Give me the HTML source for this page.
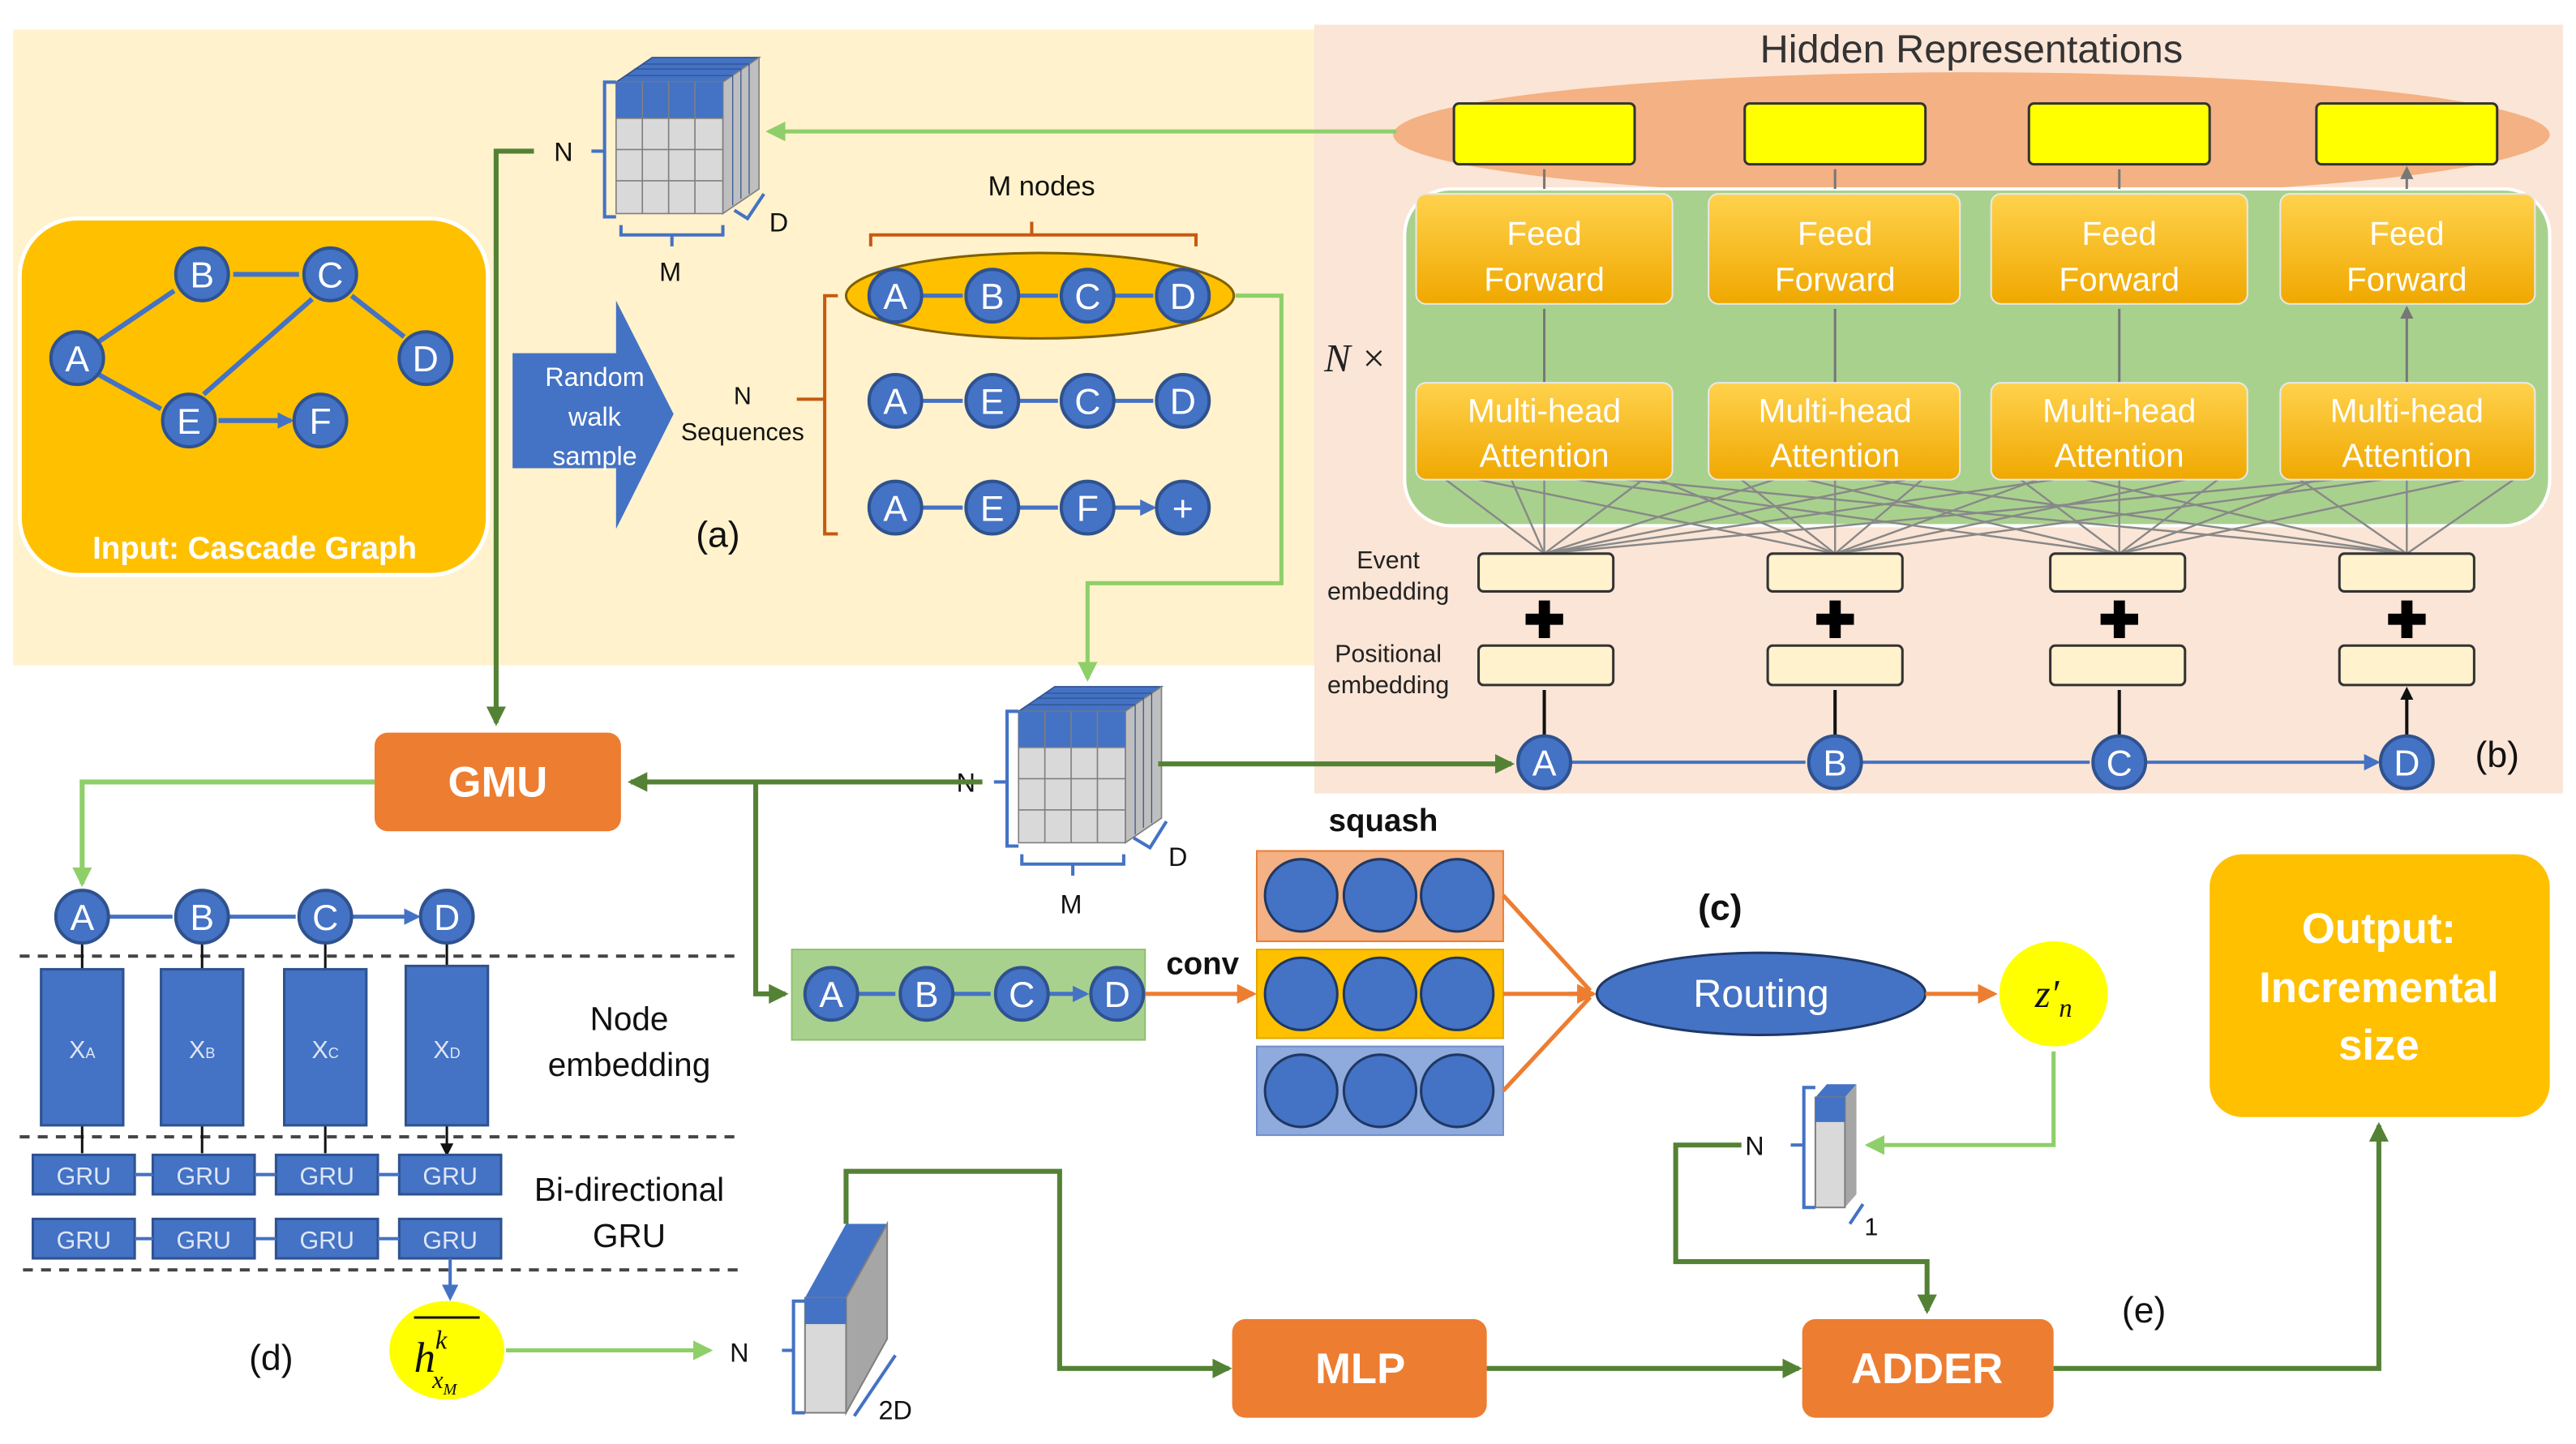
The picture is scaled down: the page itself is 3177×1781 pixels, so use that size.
<!DOCTYPE html>
<html><head><meta charset="utf-8"><style>html,body{margin:0;padding:0;background:#fff}svg{display:block}</style></head>
<body>
<svg width="3177" height="1781" viewBox="0 0 1568 879" xmlns="http://www.w3.org/2000/svg" font-family="Liberation Sans, sans-serif">
<defs>
<marker id="dg" markerWidth="8" markerHeight="8" refX="6" refY="4" orient="auto" markerUnits="userSpaceOnUse"><path d="M0,0 L8,4 L0,8z" fill="#548235"/></marker>
<marker id="lg" markerWidth="12" markerHeight="12" refX="10" refY="6" orient="auto" markerUnits="userSpaceOnUse"><path d="M0,0 L12,6 L0,12z" fill="#8fcf6a"/></marker>
<marker id="dgb" markerWidth="12" markerHeight="12" refX="10" refY="6" orient="auto" markerUnits="userSpaceOnUse"><path d="M0,0 L12,6 L0,12z" fill="#548235"/></marker>
<marker id="or" markerWidth="12" markerHeight="12" refX="10" refY="6" orient="auto" markerUnits="userSpaceOnUse"><path d="M0,0 L12,6 L0,12z" fill="#ed7d31"/></marker>
<marker id="bl" markerWidth="10" markerHeight="10" refX="8" refY="5" orient="auto" markerUnits="userSpaceOnUse"><path d="M0,0 L10,5 L0,10z" fill="#4472c4"/></marker>
<marker id="bk" markerWidth="8" markerHeight="8" refX="6" refY="4" orient="auto" markerUnits="userSpaceOnUse"><path d="M0,0 L8,4 L0,8z" fill="#111"/></marker>
<marker id="gy" markerWidth="8" markerHeight="8" refX="6" refY="4" orient="auto" markerUnits="userSpaceOnUse"><path d="M0,0 L8,4 L0,8z" fill="#777"/></marker>
<linearGradient id="ff" x1="0" y1="0" x2="0" y2="1"><stop offset="0" stop-color="#ffd24d"/><stop offset="1" stop-color="#f0a800"/></linearGradient>
<g id="cube">
 <path d="M0,15 L22,0 L87,0 L65,15z" fill="#4472c4" stroke="#2f528f" stroke-width="0.8"/>
 <path d="M65,15 L87,0 L87,80 L65,95z" fill="#bfbfbf" stroke="#7f7f7f" stroke-width="0.8"/>
 <rect x="0" y="15" width="65" height="80" fill="#d9d9d9" stroke="#7f7f7f" stroke-width="0.8"/>
 <rect x="0" y="15" width="65" height="22" fill="#4472c4"/>
 <path d="M16,15V95M32,15V95M48,15V95M0,37H65M0,56H65M0,75H65" stroke="#7f7f7f" stroke-width="0.8"/>
 <path d="M6,11L71,11M11,7L76,7M16,4L81,4M71,11V90M76,7V86M81,4V83" stroke="#2f528f" stroke-width="0.6" fill="none"/>
</g>
</defs>

<!-- panels -->
<rect x="8" y="18" width="792" height="387" fill="#fff2cc"/>
<rect x="800" y="15" width="760" height="468" fill="#fbe5d6"/>

<!-- right panel (b) -->
<text x="1200" y="38" font-size="24" text-anchor="middle" fill="#333">Hidden Representations</text>
<ellipse cx="1200" cy="82" rx="352" ry="38" fill="#f4b183"/>
<g fill="#ffff00" stroke="#333" stroke-width="1.5">
<rect x="885" y="63" width="110" height="37" rx="3"/><rect x="1062" y="63" width="110" height="37" rx="3"/><rect x="1235" y="63" width="110" height="37" rx="3"/><rect x="1410" y="63" width="110" height="37" rx="3"/>
</g>
<rect x="855" y="115" width="697" height="205" rx="28" fill="#a9d18e" stroke="#fff" stroke-width="2"/>
<g stroke="#777" stroke-width="1.5" marker-end="url(#gy)">
<path d="M940,115V103M1117,115V103M1290,115V103M1465,115V103"/>
<path d="M940,233V188M1117,233V188M1290,233V188M1465,233V188"/>
</g>
<g stroke="#888" stroke-width="1.2" fill="none">
<path d="M940,337L880,292M940,337L920,292M940,337L1000,292M940,337L1080,292M940,337L1160,292M940,337L1250,292M940,337L1420,292"/>
<path d="M1117,337L900,292M1117,337L1010,292M1117,337L1060,292M1117,337L1170,292M1117,337L1240,292M1117,337L1330,292M1117,337L1450,292"/>
<path d="M1290,337L960,292M1290,337L1100,292M1290,337L1230,292M1290,337L1350,292M1290,337L1410,292M1290,337L1500,292"/>
<path d="M1465,337L990,292M1465,337L1140,292M1465,337L1270,292M1465,337L1400,292M1465,337L1530,292"/>
<path d="M940,337V292M1117,337V292M1290,337V292M1465,337V292"/>
</g>
<g fill="url(#ff)" stroke="#e8e8e8" stroke-width="1">
<rect x="862" y="118" width="156" height="67" rx="6"/><rect x="1040" y="118" width="153" height="67" rx="6"/><rect x="1212" y="118" width="156" height="67" rx="6"/><rect x="1388" y="118" width="155" height="67" rx="6"/>
<rect x="862" y="233" width="156" height="59" rx="6"/><rect x="1040" y="233" width="153" height="59" rx="6"/><rect x="1212" y="233" width="156" height="59" rx="6"/><rect x="1388" y="233" width="155" height="59" rx="6"/>
</g>
<g fill="#fff" font-size="20" text-anchor="middle">
<text x="940" y="149">Feed</text><text x="940" y="177">Forward</text>
<text x="1117" y="149">Feed</text><text x="1117" y="177">Forward</text>
<text x="1290" y="149">Feed</text><text x="1290" y="177">Forward</text>
<text x="1465" y="149">Feed</text><text x="1465" y="177">Forward</text>
<text x="940" y="257">Multi-head</text><text x="940" y="284">Attention</text>
<text x="1117" y="257">Multi-head</text><text x="1117" y="284">Attention</text>
<text x="1290" y="257">Multi-head</text><text x="1290" y="284">Attention</text>
<text x="1465" y="257">Multi-head</text><text x="1465" y="284">Attention</text>
</g>
<text x="806" y="226" font-size="24" font-family="Liberation Serif, serif" font-style="italic" fill="#222">N ×</text>
<g fill="#fff2cc" stroke="#333" stroke-width="1.5">
<rect x="900" y="337" width="82" height="23" rx="3"/><rect x="1076" y="337" width="82" height="23" rx="3"/><rect x="1248" y="337" width="82" height="23" rx="3"/><rect x="1424" y="337" width="82" height="23" rx="3"/>
<rect x="900" y="393" width="82" height="24" rx="3"/><rect x="1076" y="393" width="82" height="24" rx="3"/><rect x="1248" y="393" width="82" height="24" rx="3"/><rect x="1424" y="393" width="82" height="24" rx="3"/>
</g>
<g font-size="30" font-weight="bold" text-anchor="middle" fill="#000">
<text x="940" y="388">✚</text><text x="1117" y="388">✚</text><text x="1290" y="388">✚</text><text x="1465" y="388">✚</text>
</g>
<g font-size="15" text-anchor="middle" fill="#222">
<text x="845" y="346">Event</text><text x="845" y="365">embedding</text>
<text x="845" y="403">Positional</text><text x="845" y="422">embedding</text>
</g>
<g stroke="#111" stroke-width="2" marker-end="url(#bk)">
<path d="M940,448V420M1117,448V420M1290,448V420M1465,448V420"/>
</g>
<g stroke="#4472c4" stroke-width="2" marker-end="url(#bl)">
<path d="M956,464H1099M1133,464H1272M1306,464H1447"/>
</g>
<text x="1520" y="467" font-size="22" fill="#111" text-anchor="middle">(b)</text>

<!-- input graph -->
<rect x="12" y="133" width="285" height="217" rx="35" fill="#ffc000" stroke="#fff" stroke-width="2.5"/>
<g stroke="#4472c4" stroke-width="3" marker-end="url(#bl)">
<path d="M60,208L106,177M142,167H182M214,180L246,205M60,228L98,249M124,240L190,182M133,256H177"/>
</g>
<text x="155" y="340" font-size="19" font-weight="bold" fill="#fff" text-anchor="middle">Input: Cascade Graph</text>

<!-- random walk arrow -->
<polygon points="312,215 375,215 375,183 410,252 375,322 375,285 312,285" fill="#4472c4"/>
<g fill="#fff" font-size="16" text-anchor="middle"><text x="362" y="235">Random</text><text x="362" y="259">walk</text><text x="362" y="283">sample</text></g>
<g fill="#111" font-size="15" text-anchor="middle"><text x="452" y="246">N</text><text x="452" y="268">Sequences</text></g>
<path d="M510,180H502V325H510M502,243H485" stroke="#c55a11" stroke-width="2" fill="none"/>
<path d="M530,150V143H728V150M628,143V135" stroke="#c55a11" stroke-width="2" fill="none"/>
<text x="634" y="119" font-size="17" fill="#111" text-anchor="middle">M nodes</text>
<ellipse cx="633" cy="180" rx="118" ry="26" fill="#ffc000" stroke="#806000" stroke-width="1.5"/>
<g stroke="#4472c4" stroke-width="2.5" marker-end="url(#bl)">
<path d="M561,180H586M620,180H644M678,180H702M561,244H586M620,244H644M678,244H702M561,309H586M620,309H644M678,309H702"/>
</g>
<text x="437" y="333" font-size="22" fill="#111" text-anchor="middle">(a)</text>

<!-- top cube -->
<use href="#cube" x="375" y="35"/>
<path d="M375,50H368V132H375M368,92H360" stroke="#4472c4" stroke-width="2" fill="none"/>
<path d="M378,137V143H440V137M409,143V150" stroke="#4472c4" stroke-width="2" fill="none"/>
<path d="M447,128L455,133L465,118" stroke="#4472c4" stroke-width="2" fill="none"/>
<text x="343" y="98" font-size="16" fill="#111" text-anchor="middle">N</text>
<text x="408" y="171" font-size="16" fill="#111" text-anchor="middle">M</text>
<text x="474" y="141" font-size="16" fill="#111" text-anchor="middle">D</text>

<!-- middle cube -->
<use href="#cube" x="620" y="418"/>
<path d="M620,433H613V515H620M613,476H605" stroke="#4472c4" stroke-width="2" fill="none"/>
<path d="M622,520V526H684V520M653,526V533" stroke="#4472c4" stroke-width="2" fill="none"/>
<path d="M690,510L700,516L710,500" stroke="#4472c4" stroke-width="2" fill="none"/>
<text x="588" y="482" font-size="16" fill="#111" text-anchor="middle">N</text>
<text x="652" y="556" font-size="16" fill="#111" text-anchor="middle">M</text>
<text x="717" y="527" font-size="16" fill="#111" text-anchor="middle">D</text>

<!-- green connectors -->
<path d="M850,80H468" stroke="#8fcf6a" stroke-width="2.5" fill="none" marker-end="url(#lg)"/>
<path d="M752,180H780V355H662V413" stroke="#8fcf6a" stroke-width="2.5" fill="none" marker-end="url(#lg)"/>
<path d="M325,92H302V440" stroke="#548235" stroke-width="3" fill="none" marker-end="url(#dgb)"/>
<path d="M705,465H920" stroke="#548235" stroke-width="3" fill="none" marker-end="url(#dgb)"/>
<path d="M598,476H384" stroke="#548235" stroke-width="3" fill="none" marker-end="url(#dgb)"/>
<path d="M460,476V605H478" stroke="#548235" stroke-width="3" fill="none" marker-end="url(#dgb)"/>
<path d="M228,476H50V538" stroke="#8fcf6a" stroke-width="3" fill="none" marker-end="url(#lg)"/>

<!-- GMU -->
<rect x="228" y="446" width="150" height="60" rx="8" fill="#ed7d31"/>
<text x="303" y="485" font-size="26" font-weight="bold" fill="#fff" text-anchor="middle">GMU</text>

<!-- (d) -->
<g stroke="#444" stroke-width="2" stroke-dasharray="6,5"><path d="M12,582H450M12,692H450M14,773H450"/></g>
<g stroke="#4472c4" stroke-width="2.5" marker-end="url(#bl)"><path d="M66,558H105M139,558H180M214,558H254"/></g>
<g stroke="#111" stroke-width="1.5" marker-end="url(#bk)"><path d="M50,574V590M123,574V590M198,574V590M272,574V590M50,685V702M123,685V702M198,685V702M272,685V702"/></g>
<g fill="#4472c4" stroke="#2f528f" stroke-width="1.5">
<rect x="25" y="590" width="50" height="95"/><rect x="98" y="590" width="50" height="95"/><rect x="173" y="590" width="50" height="95"/><rect x="247" y="588" width="50" height="97"/>
<rect x="20" y="703" width="62" height="24"/><rect x="93" y="703" width="62" height="24"/><rect x="168" y="703" width="62" height="24"/><rect x="243" y="703" width="62" height="24"/>
<rect x="20" y="742" width="62" height="24"/><rect x="93" y="742" width="62" height="24"/><rect x="168" y="742" width="62" height="24"/><rect x="243" y="742" width="62" height="24"/>
</g>
<g fill="#dde6f5" font-size="15" text-anchor="middle">
<text x="50" y="644">X<tspan font-size="9">A</tspan></text><text x="123" y="644">X<tspan font-size="9">B</tspan></text><text x="198" y="644">X<tspan font-size="9">C</tspan></text><text x="272" y="644">X<tspan font-size="9">D</tspan></text>
<text x="51" y="721">GRU</text><text x="124" y="721">GRU</text><text x="199" y="721">GRU</text><text x="274" y="721">GRU</text>
<text x="51" y="760">GRU</text><text x="124" y="760">GRU</text><text x="199" y="760">GRU</text><text x="274" y="760">GRU</text>
</g>
<g stroke="#4472c4" stroke-width="2" marker-end="url(#bl)"><path d="M82,715H93M155,715H168M230,715H243M93,754H82M168,754H155M243,754H230M274,766V790"/></g>
<g font-size="20" fill="#111" text-anchor="middle"><text x="383" y="627">Node</text><text x="383" y="655">embedding</text><text x="383" y="731">Bi-directional</text><text x="383" y="759">GRU</text></g>
<ellipse cx="272" cy="822" rx="35" ry="30" fill="#ffff00"/>
<path d="M252,802H292" stroke="#111" stroke-width="1.5"/>
<text x="252" y="835" font-size="26" font-family="Liberation Serif, serif" font-style="italic" fill="#111">h<tspan font-size="16" dy="-14">k</tspan><tspan font-size="15" dx="-9" dy="24">x</tspan><tspan font-size="10" dy="4">M</tspan></text>
<text x="165" y="834" font-size="22" fill="#111" text-anchor="middle">(d)</text>
<path d="M308,822H432" stroke="#8fcf6a" stroke-width="2.5" marker-end="url(#lg)"/>
<text x="450" y="829" font-size="16" fill="#111" text-anchor="middle">N</text>
<!-- slab -->
<path d="M490,790L515,745L540,745L515,790z" fill="#4472c4"/>
<path d="M515,790L540,745L540,815L515,860z" fill="#a6a6a6" stroke="#7f7f7f"/>
<rect x="490" y="790" width="25" height="70" fill="#d9d9d9" stroke="#7f7f7f"/>
<rect x="490" y="790" width="25" height="16" fill="#4472c4"/>
<path d="M490,792H483V860H490M483,822H476" stroke="#4472c4" stroke-width="2" fill="none"/>
<path d="M520,862L545,825" stroke="#4472c4" stroke-width="2"/>
<text x="545" y="864" font-size="16" fill="#111" text-anchor="middle">2D</text>
<path d="M515,745V713H645V833H748" stroke="#548235" stroke-width="3" fill="none" marker-end="url(#dgb)"/>

<!-- MLP / ADDER -->
<rect x="750" y="803" width="155" height="60" rx="8" fill="#ed7d31"/>
<text x="828" y="842" font-size="26" font-weight="bold" fill="#fff" text-anchor="middle">MLP</text>
<rect x="1097" y="803" width="153" height="60" rx="8" fill="#ed7d31"/>
<text x="1173" y="842" font-size="26" font-weight="bold" fill="#fff" text-anchor="middle">ADDER</text>
<path d="M905,833H1095" stroke="#548235" stroke-width="3" marker-end="url(#dgb)"/>
<path d="M1250,833H1448V685" stroke="#548235" stroke-width="3" fill="none" marker-end="url(#dgb)"/>
<text x="1305" y="805" font-size="22" fill="#111" text-anchor="middle">(e)</text>

<!-- output -->
<rect x="1345" y="520" width="207" height="160" rx="20" fill="#ffc000"/>
<g font-size="26" font-weight="bold" fill="#fff" text-anchor="middle"><text x="1448" y="574">Output:</text><text x="1448" y="610">Incremental</text><text x="1448" y="645">size</text></g>

<!-- (c) -->
<rect x="482" y="578" width="215" height="55" fill="#a9d18e" stroke="#8fbf70"/>
<g stroke="#4472c4" stroke-width="2.5" marker-end="url(#bl)"><path d="M522,605H545M580,605H603M638,605H661"/></g>
<text x="732" y="593" font-size="19" font-weight="bold" fill="#111" text-anchor="middle">conv</text>
<path d="M697,605H763" stroke="#ed7d31" stroke-width="2.5" marker-end="url(#or)"/>
<text x="842" y="506" font-size="19" font-weight="bold" fill="#111" text-anchor="middle">squash</text>
<rect x="765" y="518" width="150" height="55" fill="#f4b183" stroke="#ed7d31"/>
<rect x="765" y="578" width="150" height="54" fill="#ffc000" stroke="#e0a800"/>
<rect x="765" y="637" width="150" height="54" fill="#8faadc" stroke="#6f8fcc"/>
<g fill="#4472c4" stroke="#1f3864" stroke-width="1.5">
<circle cx="792" cy="545" r="22"/><circle cx="840" cy="545" r="22"/><circle cx="887" cy="545" r="22"/>
<circle cx="792" cy="605" r="22"/><circle cx="840" cy="605" r="22"/><circle cx="887" cy="605" r="22"/>
<circle cx="792" cy="664" r="22"/><circle cx="840" cy="664" r="22"/><circle cx="887" cy="664" r="22"/>
</g>
<path d="M915,545L968,603M915,664L968,607M915,605H968" stroke="#ed7d31" stroke-width="2.5" fill="none"/>
<path d="M955,605H970" stroke="#ed7d31" stroke-width="2.5" marker-end="url(#or)"/>
<text x="1047" y="560" font-size="22" font-weight="bold" fill="#111" text-anchor="middle">(c)</text>
<ellipse cx="1072" cy="605" rx="100" ry="25" fill="#4472c4" stroke="#1f3864" stroke-width="1.5"/>
<text x="1072" y="613" font-size="24" fill="#fff" text-anchor="middle">Routing</text>
<path d="M1172,605H1214" stroke="#ed7d31" stroke-width="2.5" marker-end="url(#or)"/>
<ellipse cx="1250" cy="605" rx="33" ry="32" fill="#ffff00"/>
<text x="1250" y="613" font-size="24" font-family="Liberation Serif, serif" font-style="italic" fill="#111" text-anchor="middle">z′<tspan font-size="16" dy="6">n</tspan></text>
<path d="M1250,640V697H1137" stroke="#8fcf6a" stroke-width="2.5" fill="none" marker-end="url(#lg)"/>
<path d="M1105,668L1112,660L1130,660L1123,668z" fill="#4472c4"/>
<path d="M1123,668L1130,660V727L1123,735z" fill="#a6a6a6"/>
<rect x="1105" y="668" width="18" height="67" fill="#d9d9d9" stroke="#7f7f7f"/>
<rect x="1105" y="668" width="18" height="15" fill="#4472c4"/>
<path d="M1105,662H1098V735H1105M1098,697H1090" stroke="#4472c4" stroke-width="2" fill="none"/>
<path d="M1126,745L1134,733" stroke="#4472c4" stroke-width="2"/>
<text x="1068" y="703" font-size="16" fill="#111" text-anchor="middle">N</text>
<text x="1139" y="752" font-size="15" fill="#111" text-anchor="middle">1</text>
<path d="M1060,697H1020V768H1173V798" stroke="#548235" stroke-width="3" fill="none" marker-end="url(#dgb)"/>

<!-- node circles -->
<g fill="#4472c4" stroke="#2f528f" stroke-width="2">
<circle cx="47" cy="218" r="16"/><circle cx="123" cy="167" r="16"/><circle cx="201" cy="167" r="16"/><circle cx="259" cy="218" r="16"/><circle cx="115" cy="256" r="16"/><circle cx="195" cy="256" r="16"/>
<circle cx="545" cy="180" r="16"/><circle cx="604" cy="180" r="16"/><circle cx="662" cy="180" r="16"/><circle cx="720" cy="180" r="16"/>
<circle cx="545" cy="244" r="16"/><circle cx="604" cy="244" r="16"/><circle cx="662" cy="244" r="16"/><circle cx="720" cy="244" r="16"/>
<circle cx="545" cy="309" r="16"/><circle cx="604" cy="309" r="16"/><circle cx="662" cy="309" r="16"/><circle cx="720" cy="309" r="16"/>
<circle cx="940" cy="464" r="16"/><circle cx="1117" cy="464" r="16"/><circle cx="1290" cy="464" r="16"/><circle cx="1465" cy="464" r="16"/>
<circle cx="50" cy="558" r="16"/><circle cx="123" cy="558" r="16"/><circle cx="198" cy="558" r="16"/><circle cx="272" cy="558" r="16"/>
<circle cx="506" cy="605" r="16"/><circle cx="564" cy="605" r="16"/><circle cx="622" cy="605" r="16"/><circle cx="680" cy="605" r="16"/>
</g>
<g fill="#fff" font-size="22" text-anchor="middle">
<text x="47" y="226">A</text><text x="123" y="175">B</text><text x="201" y="175">C</text><text x="259" y="226">D</text><text x="115" y="264">E</text><text x="195" y="264">F</text>
<text x="545" y="188">A</text><text x="604" y="188">B</text><text x="662" y="188">C</text><text x="720" y="188">D</text>
<text x="545" y="252">A</text><text x="604" y="252">E</text><text x="662" y="252">C</text><text x="720" y="252">D</text>
<text x="545" y="317">A</text><text x="604" y="317">E</text><text x="662" y="317">F</text><text x="720" y="317">+</text>
<text x="940" y="472">A</text><text x="1117" y="472">B</text><text x="1290" y="472">C</text><text x="1465" y="472">D</text>
<text x="50" y="566">A</text><text x="123" y="566">B</text><text x="198" y="566">C</text><text x="272" y="566">D</text>
<text x="506" y="613">A</text><text x="564" y="613">B</text><text x="622" y="613">C</text><text x="680" y="613">D</text>
</g>
</svg>
</body></html>
